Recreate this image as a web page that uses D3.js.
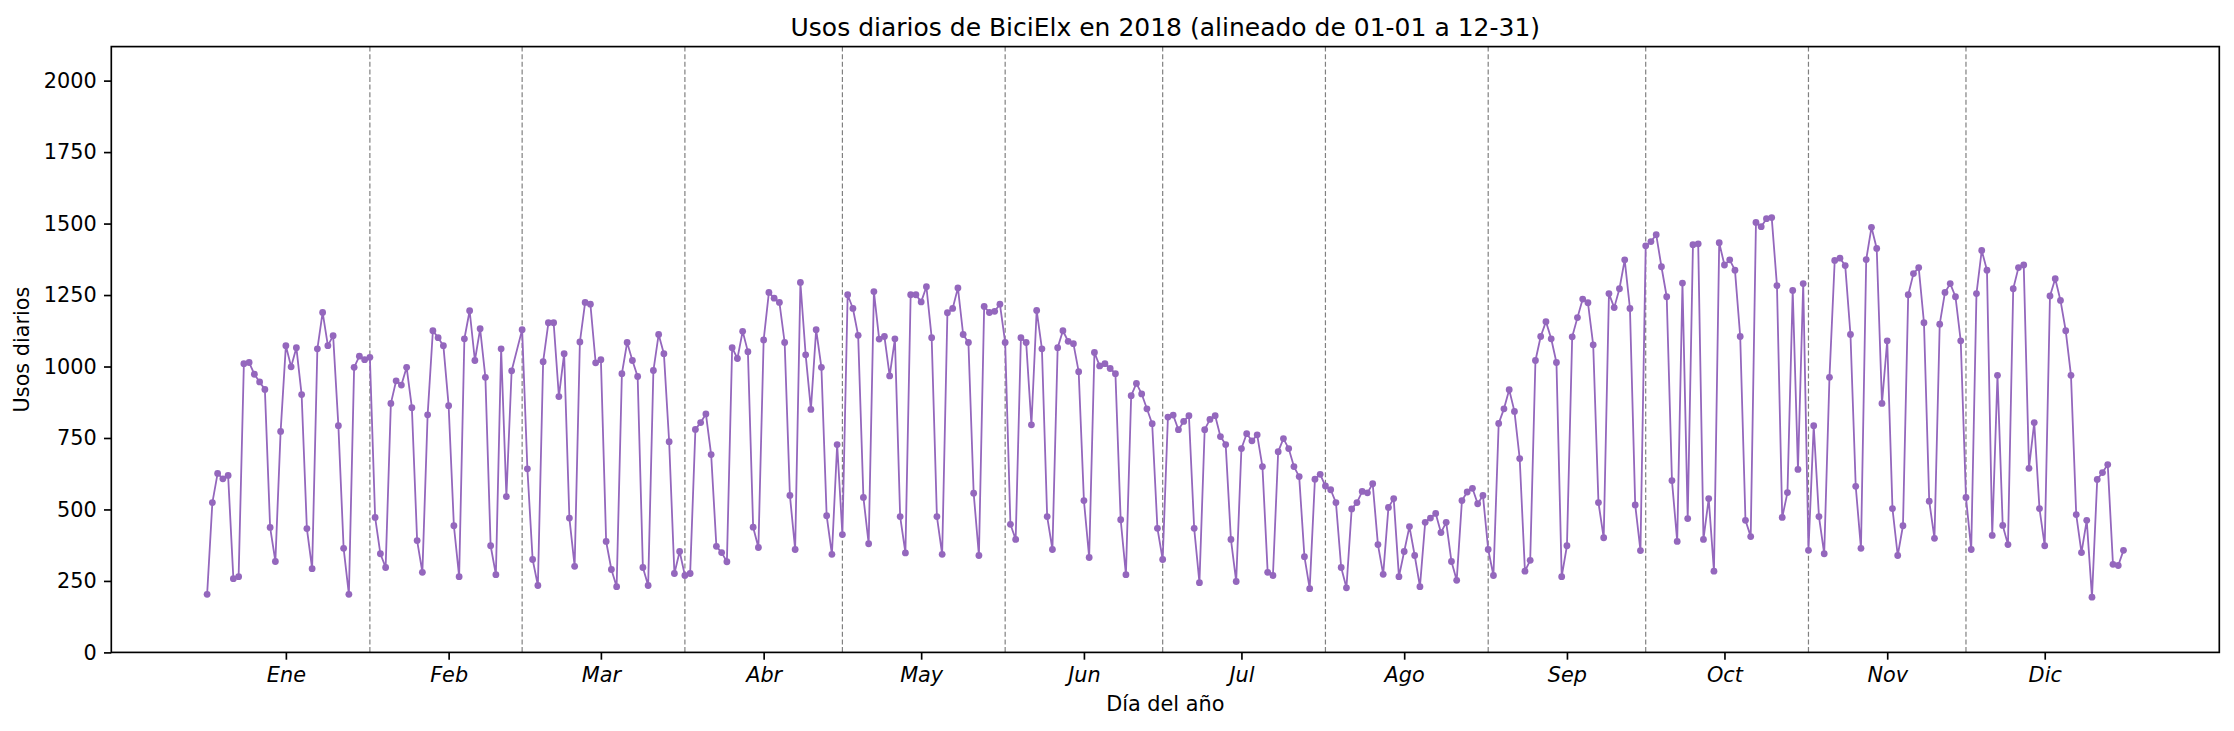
<!DOCTYPE html>
<html>
<head>
<meta charset="utf-8">
<script src="https://cdn.jsdelivr.net/npm/d3@7"></script>
<style>
  body { margin: 0; background: #fff; }
  svg { display: block; font-family: "DejaVu Sans", sans-serif; }
</style>
</head>
<body>
<div id="chart"></div>
<script>
// Usos diarios 2018, un array por mes
const ene = [203,524,626,607,619,258,265,1010,1014,973,946,920,437,318,773,1073,999,1066,902,433,293,1062,1189,1073,1108,793,364,203,997,1036,1024];
const feb = [1032,472,345,297,871,950,935,997,856,391,280,831,1125,1101,1073,863,443,265,1097,1195,1021,1132,962,373,272,1062,545,985];
const mar = [1129,642,325,234,1017,1153,1153,895,1045,470,301,1086,1224,1218,1013,1024,388,290,230,975,1084,1021,965,297,234,986,1112,1045,737,276,353];
const abr = [269,276,780,804,834,692,371,349,317,1066,1028,1123,1052,438,367,1093,1259,1239,1224,1084,549,360,1294,1041,850,1129,997,478,343,727];
const may = [412,1251,1203,1109,542,380,1262,1096,1105,967,1097,475,348,1251,1251,1226,1279,1101,475,343,1188,1203,1275,1112,1084,557,339,1210,1189,1193,1218];
const jun = [1084,448,395,1101,1084,796,1196,1062,475,360,1066,1125,1088,1080,982,531,332,1049,1002,1010,993,975,464,272,898,941,904,852,800,434];
const jul = [325,823,830,779,808,828,434,244,779,815,828,755,727,395,248,713,765,740,761,650,280,269,702,748,713,650,615,335,223,606,623];
const ago = [582,569,524,297,226,502,524,563,558,590,377,273,507,538,265,353,440,339,230,455,470,486,419,455,318,252,531,561,574,520,549];
const sep = [360,269,801,852,919,843,678,284,322,1021,1105,1157,1097,1014,265,373,1104,1171,1236,1223,1076,524,401,1255,1206,1272,1373,1203,516,356];
const oct = [1422,1437,1461,1349,1244,601,388,1292,468,1426,1429,395,538,284,1433,1355,1373,1337,1105,462,405,1504,1489,1517,1521,1283,472,559,1266,640,1290];
const nov = [357,793,475,345,962,1371,1379,1353,1112,581,364,1374,1487,1413,871,1090,503,339,443,1251,1325,1346,1153,529,399,1148,1259,1290,1244,1090];
const dic = [542,360,1255,1406,1337,409,969,444,377,1272,1346,1355,644,804,503,373,1247,1307,1231,1125,969,482,349,462,193,605,629,657,308,304,357];

const meses = ["Ene","Feb","Mar","Abr","May","Jun","Jul","Ago","Sep","Oct","Nov","Dic"];
const yTicks = [0,250,500,750,1000,1250,1500,1750,2000];

/*******************************/
/*    Declare the constants    */
/*******************************/
const width = 2234;
const height = 731;
const margin = {top: 46.6, right: 14.7, bottom: 78.6, left: 111.3};
const innerWidth = width - margin.left - margin.right;
const innerHeight = height - margin.top - margin.bottom;
const color = "#9467bd";

// 2018 alineado sobre un año bisiesto (hueco en el 29 de febrero)
const valores = [ene, feb, mar, abr, may, jun, jul, ago, sep, oct, nov, dic].flat();
const dias = d3.utcDay.range(new Date(Date.UTC(2018, 0, 1)), new Date(Date.UTC(2019, 0, 1)));
const serie = dias.map((d, i) => ({
  fecha: new Date(Date.UTC(2000, d.getUTCMonth(), d.getUTCDate())),
  usos: valores[i]
}));

/*******************************/
/*    Append the containers    */
/*******************************/
const svg = d3.select("#chart")
  .append("svg")
    .attr("width", width)
    .attr("height", height);

const innerChart = svg
  .append("g")
    .attr("transform", `translate(${margin.left}, ${margin.top})`);

/*********************************/
/*    Declare scales             */
/*********************************/
const x0 = Date.UTC(2000, 0, 1), x1 = Date.UTC(2000, 11, 31);
const pad = (x1 - x0) * 0.05;
const xScale = d3.scaleUtc()
  .domain([new Date(x0 - pad), new Date(x1 + pad)])
  .range([0, innerWidth]);

const yScale = d3.scaleLinear()
  .domain([0, 2119])
  .range([innerHeight, 0]);

/*********************************/
/*    Month separators           */
/*********************************/
const inicios = d3.range(1, 12).map(m => new Date(Date.UTC(2000, m, 1)));
innerChart.selectAll(".sep")
  .data(inicios)
  .join("line")
    .attr("class", "sep")
    .attr("x1", d => xScale(d))
    .attr("x2", d => xScale(d))
    .attr("y1", 0)
    .attr("y2", innerHeight)
    .attr("stroke", "#808080")
    .attr("stroke-width", 1.2)
    .attr("stroke-dasharray", "5,2.6");

/*********************************/
/*    Line and markers           */
/*********************************/
const line = d3.line()
  .x(d => xScale(d.fecha))
  .y(d => yScale(d.usos));

innerChart.append("path")
  .datum(serie)
    .attr("d", line)
    .attr("fill", "none")
    .attr("stroke", color)
    .attr("stroke-width", 1.8)
    .attr("stroke-linejoin", "round");

innerChart.selectAll(".pt")
  .data(serie)
  .join("circle")
    .attr("class", "pt")
    .attr("cx", d => xScale(d.fecha))
    .attr("cy", d => yScale(d.usos))
    .attr("r", 3.4)
    .attr("fill", color);

/*********************************/
/*    Append Axes                */
/*********************************/
const mitades = d3.range(12).map(m => new Date(Date.UTC(2000, m, 16)));
const bottomAxis = d3.axisBottom(xScale)
  .tickValues(mitades)
  .tickFormat((d, i) => meses[i])
  .tickSize(7.3)
  .tickSizeOuter(0)
  .tickPadding(7.3);
const gx = innerChart.append("g")
    .attr("transform", `translate(0, ${innerHeight})`)
    .call(bottomAxis);

const leftAxis = d3.axisLeft(yScale)
  .tickValues(yTicks)
  .tickFormat(d3.format("d"))
  .tickSize(7.3)
  .tickSizeOuter(0)
  .tickPadding(7.3);
const gy = innerChart.append("g")
    .call(leftAxis);

[gx, gy].forEach(g => {
  g.attr("font-family", "DejaVu Sans").attr("font-size", 20.8);
  g.select(".domain").remove();
  g.selectAll(".tick line").attr("stroke", "#000").attr("stroke-width", 1.67);
  g.selectAll(".tick text").attr("fill", "#000");
});
gx.selectAll(".tick text").attr("font-style", "italic");

// Frame
innerChart.append("rect")
    .attr("width", innerWidth)
    .attr("height", innerHeight)
    .attr("fill", "none")
    .attr("stroke", "#000")
    .attr("stroke-width", 1.67);

/*********************************/
/*    Title and labels           */
/*********************************/
svg.append("text")
    .text("Usos diarios de BiciElx en 2018 (alineado de 01-01 a 12-31)")
    .attr("x", margin.left + innerWidth / 2)
    .attr("y", 36)
    .attr("text-anchor", "middle")
    .attr("font-size", 25);

svg.append("text")
    .text("Día del año")
    .attr("x", margin.left + innerWidth / 2)
    .attr("y", 711)
    .attr("text-anchor", "middle")
    .attr("font-size", 20.8);

svg.append("text")
    .text("Usos diarios")
    .attr("transform", `translate(29, ${margin.top + innerHeight / 2}) rotate(-90)`)
    .attr("text-anchor", "middle")
    .attr("font-size", 20.8);
</script>
</body>
</html>
